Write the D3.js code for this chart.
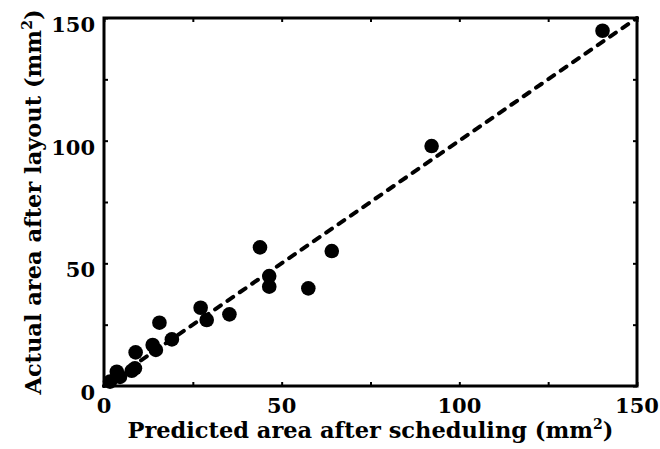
<!DOCTYPE html>
<html>
<head>
<meta charset="UTF-8">
<title>Area scatter</title>
<style type="text/css">
body { margin: 0; background: #fff; }
text { font-family: "DejaVu Serif", serif; font-weight: bold; fill: #000; }
</style>
<script src="https://d3js.org/d3.v7.min.js"></script>
</head>
<body>
<script type="text/javascript">
// predicted area after scheduling (mm^2)
var predicted = [140.3, 92.2, 43.9, 64.1, 46.5, 46.5, 57.5, 27.2, 35.3, 28.9,
                 15.6, 19.1, 13.7, 14.6, 8.9, 8.7, 7.8, 3.6, 4.5, 1.7];
// actual area after layout (mm^2)
var actual = [144.8, 97.8, 56.5, 55.0, 44.8, 40.5, 39.8, 31.9, 29.2, 26.9,
              25.8, 19.0, 16.7, 14.7, 13.7, 7.2, 6.2, 5.8, 3.7, 1.8];
var tickValues = [0, 50, 100, 150];
var minorTicks = [0, 25, 50, 75, 100, 125, 150];
var diagonal = [0, 150];

var margin = {top: 18, right: 23, bottom: 63, left: 104},
    width = 660 - margin.left - margin.right,
    height = 449 - margin.top - margin.bottom;

var x = d3.scaleLinear().domain([0, 150]).range([0, width]);
var y = d3.scaleLinear().domain([0, 150]).range([height, 0]);

var svg = d3.select("body").append("svg")
    .attr("width", 660)
    .attr("height", 449)
  .append("g")
    .attr("transform", "translate(" + margin.left + "," + margin.top + ")");

// small inward ticks on all four sides
function ticks(axis) {
    return axis.tickValues(minorTicks).tickSize(-4).tickFormat("");
}
svg.append("g").attr("transform", "translate(0," + height + ")").call(ticks(d3.axisBottom(x)));
svg.append("g").call(ticks(d3.axisTop(x)));
svg.append("g").call(ticks(d3.axisLeft(y)));
svg.append("g").attr("transform", "translate(" + width + ",0)").call(ticks(d3.axisRight(y)));
svg.selectAll(".domain").remove();
svg.selectAll(".tick line").attr("stroke", "#000").attr("stroke-width", 2);

// frame
svg.append("rect")
    .attr("width", width)
    .attr("height", height)
    .attr("fill", "none")
    .attr("stroke", "#000")
    .attr("stroke-width", 3);

// tick labels
svg.selectAll(".xlab").data(tickValues).enter().append("text")
    .attr("x", function(d) { return x(d); })
    .attr("y", height + 27)
    .attr("text-anchor", "middle")
    .style("font-size", "21px")
    .text(function(d) { return d; });

svg.selectAll(".ylab").data(tickValues).enter().append("text")
    .attr("x", -9)
    .attr("y", function(d) { return y(d) + 14; })
    .attr("text-anchor", "end")
    .style("font-size", "21px")
    .text(function(d) { return d; });

// y = x reference line
svg.append("path")
    .datum(diagonal)
    .attr("d", d3.line().x(function(d) { return x(d); }).y(function(d) { return y(d); }))
    .attr("fill", "none")
    .attr("stroke", "#000")
    .attr("stroke-width", 4)
    .attr("stroke-linecap", "round")
    .attr("stroke-dasharray", "7,8");

// points
svg.selectAll("circle")
    .data(predicted)
    .enter().append("circle")
    .attr("cx", function(d) { return x(d); })
    .attr("cy", function(d, i) { return y(actual[i]); })
    .attr("r", 7.3)
    .attr("fill", "#000");

// axis titles
var xt = svg.append("text")
    .attr("x", width / 2)
    .attr("y", height + 52)
    .attr("text-anchor", "middle")
    .style("font-size", "22.5px");
xt.append("tspan").text("Predicted area after scheduling (mm");
xt.append("tspan").attr("dy", -9).style("font-size", "14px").text("2");
xt.append("tspan").attr("dy", 9).text(")");

var yt = svg.append("text")
    .attr("transform", "translate(-63," + (height / 2) + ") rotate(-90)")
    .attr("text-anchor", "middle")
    .style("font-size", "22.5px");
yt.append("tspan").text("Actual area after layout (mm");
yt.append("tspan").attr("dy", -9).style("font-size", "14px").text("2");
yt.append("tspan").attr("dy", 9).text(")");
</script>
</body>
</html>
